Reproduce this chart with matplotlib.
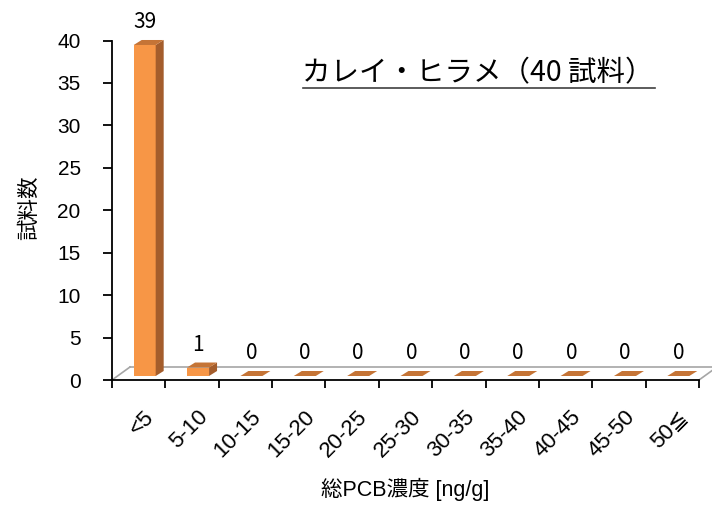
import matplotlib
matplotlib.use("Agg")
import matplotlib.pyplot as plt
import matplotlib.transforms as mtransforms
from matplotlib.patches import Polygon
from matplotlib.lines import Line2D
import numpy as np

# ---- data ----
categories = ["<5", "5-10", "10-15", "15-20", "20-25", "25-30",
              "30-35", "35-40", "40-45", "45-50", "50≦"]
counts = [39, 1, 0, 0, 0, 0, 0, 0, 0, 0, 0]
title_text = "カレイ・ヒラメ（40 試料）"
ylabel_text = "試料数"
xlabel_text = "総PCB濃度 [ng/g]"
yticks = [0, 5, 10, 15, 20, 25, 30, 35, 40]

W, H = 712, 507
fig = plt.figure(figsize=(W / 100, H / 100), dpi=100)
ax_left, ax_right, ax_top, ax_bottom = 112, 699, 40.5, 380
ax = fig.add_axes([ax_left / W, (H - ax_bottom) / H,
                   (ax_right - ax_left) / W, (ax_bottom - ax_top) / H])
n = len(categories)
ax.set_xlim(0, n)
ax.set_ylim(0, 40)

px_x = (ax_right - ax_left) / n
px_y = (ax_bottom - ax_top) / 40.0

latin = ["Liberation Sans", "Noto Sans CJK JP", "DejaVu Sans"]
latin_math = ["Liberation Sans", "DejaVu Sans", "Noto Sans CJK JP"]
cjk = ["Noto Sans CJK JP", "DejaVu Sans"]

# floor (pseudo 3D)
fdx, fdy = 18 / px_x, 13 / px_y
floor_kw = dict(color="#A6A6A6", lw=1.2, clip_on=False, zorder=1)
ax.add_line(Line2D([0, fdx], [0, fdy], **floor_kw))
ax.add_line(Line2D([fdx, n + 0.6], [fdy, fdy], **floor_kw))
ax.add_line(Line2D([n, n + fdx], [0, fdy], **floor_kw))

# bars
off = mtransforms.ScaledTranslation(6 / 100, 4 / 100, fig.dpi_scale_trans)
tr = ax.transData + off
centers = np.arange(n) + 0.5
bars = ax.bar(centers, counts, width=22 / px_x, color="#F79646",
              transform=tr, clip_on=False, zorder=3, linewidth=0)
ddx, ddy = 8 / px_x, 5 / px_y
for r, v in zip(bars, counts):
    x0, w, h = r.get_x(), r.get_width(), r.get_height()
    side = Polygon([(x0 + w, 0), (x0 + w + ddx, ddy), (x0 + w + ddx, h + ddy), (x0 + w, h)],
                   closed=True, facecolor="#A45D2C", edgecolor="none",
                   transform=tr, clip_on=False, zorder=3)
    top = Polygon([(x0, h), (x0 + w, h), (x0 + w + ddx, h + ddy), (x0 + ddx, h + ddy)],
                  closed=True, facecolor="#C57436", edgecolor="none",
                  transform=tr, clip_on=False, zorder=3)
    ax.add_patch(side)
    ax.add_patch(top)
    ax.annotate(str(v), xy=(x0 + w / 2, h), xycoords=tr,
                xytext=(0, 23), textcoords="offset pixels",
                ha="center", va="center", fontsize=15, family=cjk,
                annotation_clip=False)

# axes styling
for s in ["top", "right"]:
    ax.spines[s].set_visible(False)
for s in ["left", "bottom"]:
    ax.spines[s].set_linewidth(1.3)
    ax.spines[s].set_color("black")
    ax.spines[s].set_zorder(4)

ax.set_yticks(yticks)
ax.set_yticklabels([str(t) for t in yticks], family=latin, fontsize=15)
ax.tick_params(axis="y", direction="out", length=6.5, width=1.3, pad=16)

ax.set_xticks(np.arange(n + 1))
ax.set_xticklabels([])
ax.tick_params(axis="x", which="major", direction="out", length=6, width=1.3)
ax.set_xticks(centers, minor=True)
ax.set_xticklabels(categories, minor=True, rotation=45, ha="right",
                   rotation_mode="anchor", family=latin_math, fontsize=16)
ax.tick_params(axis="x", which="minor", length=0, pad=19)
xoff = mtransforms.ScaledTranslation(5 / 100, 0, fig.dpi_scale_trans)
for lab in ax.get_xticklabels(minor=True):
    lab.set_transform(lab.get_transform() + xoff)

# texts
fig.text(29 / W, 1 - 208 / H, ylabel_text, rotation=90, ha="center", va="center",
         fontsize=15.5, family=cjk)
fig.text(405 / W, 1 - 489 / H, xlabel_text, ha="center", va="center",
         fontsize=15.5, family=latin)
fig.text(302 / W, 1 - 73 / H, title_text, ha="left", va="center",
         fontsize=20.5, family=cjk)
fig.add_artist(Line2D([303 / W, 655 / W], [1 - 87.7 / H] * 2,
                      color="#404040", lw=1.2))

fig.savefig("out.png", dpi=100)
